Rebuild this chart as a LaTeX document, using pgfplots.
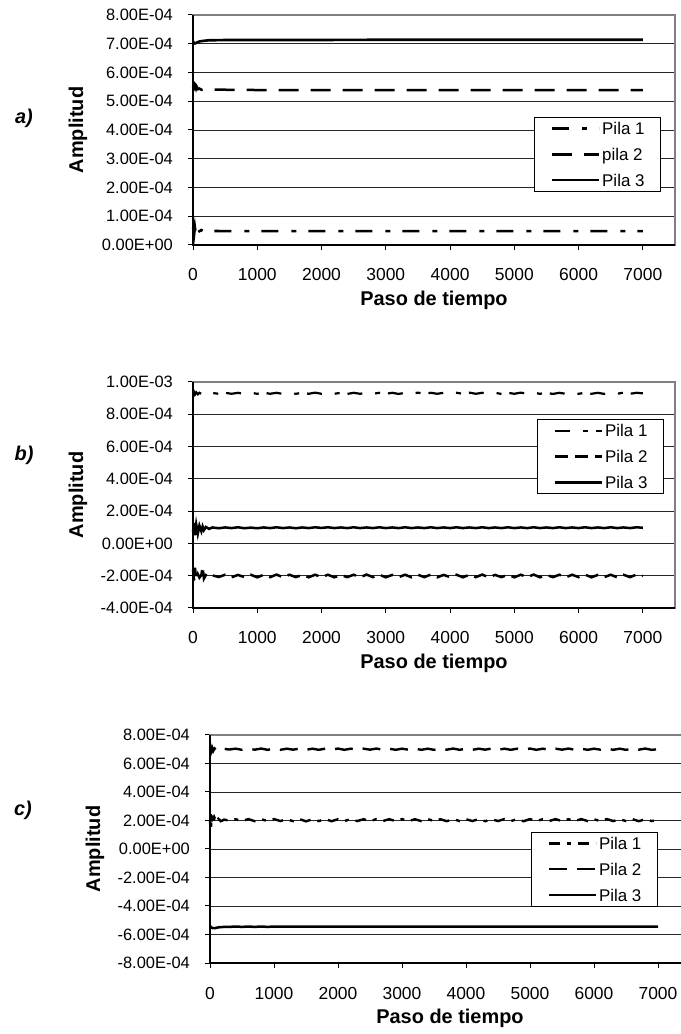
\documentclass[border=0pt]{standalone}
\usepackage{fontspec}
\setmainfont{Liberation Sans}
\usepackage{pgfplots}
\usepackage{pgfplotstable}
\pgfplotsset{compat=1.18}

\pgfplotstableread{
x p1 p2 p3
0 5.5e-5 5.45e-4 7.08e-4
10 6.3e-5 5.52e-4 7.05e-4
20 4.2e-5 5.57e-4 7.02e-4
30 6.1e-5 5.48e-4 7.01e-4
40 4.4e-5 5.53e-4 7.02e-4
50 5.8e-5 5.44e-4 7.03e-4
60 4.6e-5 5.5e-4 7.04e-4
80 5.4e-5 5.42e-4 7.06e-4
100 4.8e-5 5.44e-4 7.08e-4
130 5.2e-5 5.4e-4 7.09e-4
160 4.8e-5 5.41e-4 7.1e-4
200 5.0e-5 5.4e-4 7.11e-4
250 4.8e-5 5.4e-4 7.12e-4
300 4.9e-5 5.4e-4 7.12e-4
500 4.8e-5 5.4e-4 7.13e-4
1000 4.8e-5 5.39e-4 7.13e-4
1500 4.8e-5 5.39e-4 7.13e-4
2000 4.8e-5 5.39e-4 7.13e-4
3000 4.8e-5 5.39e-4 7.14e-4
4000 4.8e-5 5.39e-4 7.14e-4
5000 4.8e-5 5.39e-4 7.14e-4
6000 4.8e-5 5.39e-4 7.14e-4
7000 4.8e-5 5.39e-4 7.14e-4
}\dataA

\pgfplotstableread{
x p1 p2 p3
0 9.20e-4 -1.60e-4 7.0e-5
15 9.38e-4 -2.30e-4 1.27e-4
30 9.22e-4 -1.50e-4 5.0e-5
50 9.36e-4 -2.20e-4 1.18e-4
75 9.24e-4 -1.90e-4 6.0e-5
100 9.33e-4 -2.12e-4 1.10e-4
130 9.26e-4 -1.95e-4 7.5e-5
150 9.32e-4 -1.45e-4 1.05e-4
170 9.27e-4 -2.18e-4 8.2e-5
200 9.31e-4 -1.96e-4 1.02e-4
250 9.28e-4 -2.08e-4 9.0e-5
300 9.32e-4 -1.98e-4 9.9e-5
400 9.27e-4 -2.08e-4 9.4e-5
500 9.33e-4 -1.94e-4 9.9e-5
600 9.27e-4 -2.10e-4 9.5e-5
700 9.33e-4 -1.95e-4 1.00e-4
800 9.26e-4 -2.09e-4 9.4e-5
900 9.33e-4 -1.94e-4 9.8e-5
1000 9.27e-4 -2.10e-4 9.4e-5
1100 9.34e-4 -1.94e-4 9.9e-5
1200 9.27e-4 -2.09e-4 9.5e-5
1300 9.33e-4 -1.93e-4 1.00e-4
1400 9.26e-4 -2.10e-4 9.5e-5
1500 9.33e-4 -1.94e-4 9.9e-5
1600 9.27e-4 -2.09e-4 9.4e-5
1700 9.33e-4 -1.95e-4 9.9e-5
1800 9.27e-4 -2.10e-4 9.5e-5
1900 9.34e-4 -1.94e-4 1.00e-4
2000 9.27e-4 -2.09e-4 9.6e-5
2100 9.33e-4 -1.94e-4 1.00e-4
2200 9.27e-4 -2.10e-4 9.5e-5
2300 9.33e-4 -1.95e-4 9.9e-5
2400 9.26e-4 -2.09e-4 9.5e-5
2500 9.33e-4 -1.94e-4 1.00e-4
2600 9.27e-4 -2.10e-4 9.5e-5
2700 9.34e-4 -1.93e-4 9.9e-5
2800 9.27e-4 -2.09e-4 9.5e-5
2900 9.33e-4 -1.94e-4 1.00e-4
3000 9.27e-4 -2.10e-4 9.5e-5
3100 9.33e-4 -1.95e-4 9.9e-5
3200 9.26e-4 -2.09e-4 9.5e-5
3300 9.33e-4 -1.94e-4 1.00e-4
3400 9.27e-4 -2.10e-4 9.5e-5
3500 9.34e-4 -1.94e-4 9.9e-5
3600 9.27e-4 -2.09e-4 9.5e-5
3700 9.33e-4 -1.93e-4 1.00e-4
3800 9.27e-4 -2.10e-4 9.5e-5
3900 9.33e-4 -1.95e-4 9.9e-5
4000 9.26e-4 -2.09e-4 9.5e-5
4100 9.33e-4 -1.94e-4 1.00e-4
4200 9.27e-4 -2.10e-4 9.5e-5
4300 9.34e-4 -1.94e-4 9.9e-5
4400 9.27e-4 -2.09e-4 9.5e-5
4500 9.33e-4 -1.93e-4 1.00e-4
4600 9.27e-4 -2.10e-4 9.5e-5
4700 9.33e-4 -1.95e-4 9.9e-5
4800 9.26e-4 -2.09e-4 9.5e-5
4900 9.33e-4 -1.94e-4 1.00e-4
5000 9.27e-4 -2.10e-4 9.5e-5
5100 9.34e-4 -1.94e-4 9.9e-5
5200 9.27e-4 -2.09e-4 9.5e-5
5300 9.33e-4 -1.93e-4 1.00e-4
5400 9.27e-4 -2.10e-4 9.5e-5
5500 9.33e-4 -1.95e-4 9.9e-5
5600 9.26e-4 -2.09e-4 9.5e-5
5700 9.33e-4 -1.94e-4 1.00e-4
5800 9.27e-4 -2.10e-4 9.5e-5
5900 9.34e-4 -1.94e-4 9.9e-5
6000 9.27e-4 -2.09e-4 9.5e-5
6100 9.33e-4 -1.93e-4 1.00e-4
6200 9.27e-4 -2.10e-4 9.5e-5
6300 9.33e-4 -1.95e-4 9.9e-5
6400 9.26e-4 -2.09e-4 9.5e-5
6500 9.33e-4 -1.94e-4 1.00e-4
6600 9.27e-4 -2.10e-4 9.5e-5
6700 9.34e-4 -1.94e-4 9.9e-5
6800 9.27e-4 -2.09e-4 9.5e-5
6900 9.33e-4 -1.93e-4 1.00e-4
7000 9.30e-4 -2.02e-4 9.7e-5
}\dataB

\pgfplotstableread{
x p1 p2 p3
0 1.80e-4 6.90e-4 -5.40e-4
10 2.45e-4 7.12e-4 -5.45e-4
20 1.50e-4 6.85e-4 -5.50e-4
35 2.35e-4 7.08e-4 -5.54e-4
50 1.75e-4 6.88e-4 -5.56e-4
70 2.20e-4 7.06e-4 -5.56e-4
100 1.90e-4 6.95e-4 -5.53e-4
130 2.12e-4 7.05e-4 -5.50e-4
170 1.95e-4 6.97e-4 -5.48e-4
220 2.06e-4 7.03e-4 -5.47e-4
300 2.00e-4 6.98e-4 -5.46e-4
400 2.09e-4 7.04e-4 -5.45e-4
500 1.96e-4 6.96e-4 -5.46e-4
600 2.10e-4 7.04e-4 -5.45e-4
700 1.95e-4 6.97e-4 -5.46e-4
800 2.09e-4 7.05e-4 -5.45e-4
900 1.96e-4 6.96e-4 -5.46e-4
1000 2.10e-4 7.04e-4 -5.45e-4
1100 1.96e-4 6.96e-4 -5.45e-4
1200 2.09e-4 7.04e-4 -5.45e-4
1300 1.95e-4 6.97e-4 -5.45e-4
1400 2.10e-4 7.05e-4 -5.45e-4
1500 1.94e-4 6.96e-4 -5.45e-4
1600 2.09e-4 7.04e-4 -5.45e-4
1700 1.96e-4 6.96e-4 -5.45e-4
1800 2.10e-4 7.04e-4 -5.45e-4
1900 1.95e-4 6.97e-4 -5.45e-4
2000 2.09e-4 7.05e-4 -5.45e-4
2100 1.96e-4 6.96e-4 -5.45e-4
2200 2.10e-4 7.04e-4 -5.45e-4
2300 1.96e-4 6.96e-4 -5.45e-4
2400 2.09e-4 7.04e-4 -5.45e-4
2500 1.95e-4 6.97e-4 -5.45e-4
2600 2.10e-4 7.05e-4 -5.45e-4
2700 1.96e-4 6.96e-4 -5.45e-4
2800 2.09e-4 7.04e-4 -5.45e-4
2900 1.96e-4 6.96e-4 -5.45e-4
3000 2.10e-4 7.04e-4 -5.44e-4
3100 1.95e-4 6.97e-4 -5.45e-4
3200 2.09e-4 7.05e-4 -5.44e-4
3300 1.96e-4 6.96e-4 -5.45e-4
3400 2.10e-4 7.04e-4 -5.44e-4
3500 1.96e-4 6.96e-4 -5.45e-4
3600 2.09e-4 7.04e-4 -5.44e-4
3700 1.95e-4 6.97e-4 -5.45e-4
3800 2.10e-4 7.05e-4 -5.44e-4
3900 1.96e-4 6.96e-4 -5.45e-4
4000 2.09e-4 7.04e-4 -5.44e-4
4100 1.96e-4 6.96e-4 -5.45e-4
4200 2.10e-4 7.04e-4 -5.44e-4
4300 1.95e-4 6.97e-4 -5.45e-4
4400 2.09e-4 7.05e-4 -5.44e-4
4500 1.96e-4 6.96e-4 -5.45e-4
4600 2.10e-4 7.04e-4 -5.44e-4
4700 1.96e-4 6.96e-4 -5.45e-4
4800 2.09e-4 7.04e-4 -5.44e-4
4900 1.95e-4 6.97e-4 -5.45e-4
5000 2.10e-4 7.05e-4 -5.44e-4
5100 1.96e-4 6.96e-4 -5.45e-4
5200 2.09e-4 7.04e-4 -5.44e-4
5300 1.96e-4 6.96e-4 -5.45e-4
5400 2.10e-4 7.04e-4 -5.44e-4
5500 1.95e-4 6.97e-4 -5.45e-4
5600 2.09e-4 7.05e-4 -5.44e-4
5700 1.96e-4 6.96e-4 -5.45e-4
5800 2.10e-4 7.04e-4 -5.44e-4
5900 1.96e-4 6.96e-4 -5.45e-4
6000 2.09e-4 7.04e-4 -5.44e-4
6100 1.95e-4 6.97e-4 -5.45e-4
6200 2.10e-4 7.05e-4 -5.44e-4
6300 1.96e-4 6.96e-4 -5.45e-4
6400 2.09e-4 7.04e-4 -5.44e-4
6500 1.96e-4 6.96e-4 -5.45e-4
6600 2.10e-4 7.04e-4 -5.44e-4
6700 1.95e-4 6.97e-4 -5.45e-4
6800 2.09e-4 7.05e-4 -5.44e-4
6900 1.96e-4 6.96e-4 -5.45e-4
7000 2.05e-4 7.00e-4 -5.44e-4
}\dataC

\tikzset{
  frameline/.style={gray, line width=1.2bp},
  axline/.style={black, line width=1.2bp},
}

\pgfplotsset{
  excelax/.style={
    scale only axis,
    clip=false,
    axis line style={gray, line width=1.2bp},
    xtick pos=left, ytick pos=left,
    tick align=outside,
    major tick length=5bp,
    tick style={black, line width=1bp},
    xmin=0, xmax=7500,
    xtick={0,1000,2000,3000,4000,5000,6000,7000},
    xticklabels={0,1000,2000,3000,4000,5000,6000,7000},
    scaled x ticks=false, scaled y ticks=false,
    ymajorgrids, major grid style={black!85, line width=0.9bp},
    xticklabel style={font=\fontsize{17.5}{20}\selectfont, anchor=center, inner sep=0pt, yshift=-25bp},
    yticklabel style={font=\fontsize{16.5}{19}\selectfont, anchor=east, inner sep=0pt, xshift=-15bp},
    xlabel={Paso de tiempo},
    ylabel={Amplitud},
    xlabel style={font=\bfseries\fontsize{20}{24}\selectfont, at={(axis description cs:0.5,0)}, anchor=center, yshift=-55bp},
    ylabel style={font=\bfseries\fontsize{20}{24}\selectfont, at={([xshift=-115bp]axis description cs:0,0.5)}, anchor=center},
    legend cell align=left,
    legend image code/.code={\draw[##1] (0bp,0bp) -- (47bp,0bp);},
    legend style={draw=black, line width=0.9bp, fill=white, anchor=north east,
      font=\fontsize{17}{20}\selectfont,
      inner xsep=16bp, inner ysep=5bp, row sep=13.5bp, column sep=2bp,
      nodes={inner sep=0pt, text height=12.3bp, text depth=0pt}},
  },
}

\begin{document}
\begin{tikzpicture}
\path[use as bounding box] (0,0) rectangle (681bp,1034bp);

% ---------- a) ----------
\begin{axis}[excelax,
  at={(193bp,789bp)}, anchor=south west, width=482bp, height=230bp,
  ymin=0, ymax=8e-4,
  ytick={0,1e-4,2e-4,3e-4,4e-4,5e-4,6e-4,7e-4,8e-4},
  yticklabels={0.00E+00,1.00E-04,2.00E-04,3.00E-04,4.00E-04,5.00E-04,6.00E-04,7.00E-04,8.00E-04},
  legend style={at={(0.971,0.557)}},
]
\draw[frameline] (rel axis cs:0,1) -- (rel axis cs:1,1) -- (rel axis cs:1,0);
\addplot[black, line width=2.6bp, dash pattern=on 17bp off 13bp on 5bp off 12bp] table[x=x,y=p1] {\dataA};
\addplot[black, line width=2.5bp, dash pattern=on 20bp off 12bp] table[x=x,y=p2] {\dataA};
\addplot[black, line width=2.6bp] table[x=x,y=p3] {\dataA};
\draw[axline] (rel axis cs:0,1) -- (rel axis cs:0,0) -- (rel axis cs:1,0);
\legend{Pila 1,pila 2,Pila 3}
\end{axis}

% ---------- b) ----------
\begin{axis}[excelax,
  at={(193bp,426bp)}, anchor=south west, width=482bp, height=226bp,
  ymin=-4e-4, ymax=1e-3,
  ytick={-4e-4,-2e-4,0,2e-4,4e-4,6e-4,8e-4,1e-3},
  yticklabels={-4.00E-04,-2.00E-04,0.00E+00,2.00E-04,4.00E-04,6.00E-04,8.00E-04,1.00E-03},
  legend style={at={(0.977,0.836)}},
]
\draw[frameline] (rel axis cs:0,1) -- (rel axis cs:1,1) -- (rel axis cs:1,0);
\addplot[black, line width=2.2bp, dash pattern=on 15bp off 13bp on 5bp off 8bp] table[x=x,y=p1] {\dataB};
\addplot[black, line width=2.5bp, dash pattern=on 13bp off 7bp] table[x=x,y=p2] {\dataB};
\addplot[black, line width=2.5bp] table[x=x,y=p3] {\dataB};
\draw[axline] (rel axis cs:0,1) -- (rel axis cs:0,0) -- (rel axis cs:1,0);
\legend{Pila 1,Pila 2,Pila 3}
\end{axis}

% ---------- c) ----------
\begin{axis}[excelax,
  at={(210bp,71bp)}, anchor=south west, width=480bp, height=228bp,
  ymin=-8e-4, ymax=8e-4,
  ytick={-8e-4,-6e-4,-4e-4,-2e-4,0,2e-4,4e-4,6e-4,8e-4},
  yticklabels={-8.00E-04,-6.00E-04,-4.00E-04,-2.00E-04,0.00E+00,2.00E-04,4.00E-04,6.00E-04,8.00E-04},
  legend style={at={(0.933,0.575)}},
]
\draw[frameline] (rel axis cs:0,1) -- (rel axis cs:1,1) -- (rel axis cs:1,0);
\addplot[black, line width=2.4bp, dash pattern=on 11bp off 7bp on 4bp off 7bp] table[x=x,y=p1] {\dataC};
\addplot[black, line width=2.4bp, dash pattern=on 18bp off 10bp] table[x=x,y=p2] {\dataC};
\addplot[black, line width=2.5bp] table[x=x,y=p3] {\dataC};
\draw[axline] (rel axis cs:0,1) -- (rel axis cs:0,0) -- (rel axis cs:1,0);
\legend{Pila 1,Pila 2,Pila 3}
\end{axis}

\node[font=\bfseries\itshape\fontsize{20}{24}\selectfont] at (24bp,916bp) {a)};
\node[font=\bfseries\itshape\fontsize{20}{24}\selectfont] at (24bp,579bp) {b)};
\node[font=\bfseries\itshape\fontsize{20}{24}\selectfont] at (23bp,224bp) {c)};
\end{tikzpicture}
\end{document}
